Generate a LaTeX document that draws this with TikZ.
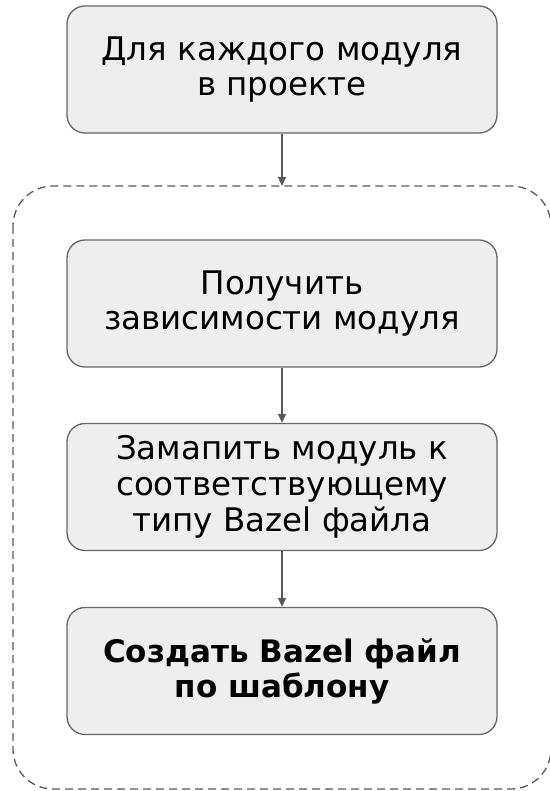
\documentclass[tikz,border=0pt]{standalone}
\usepackage{fontspec}
\setmainfont{DejaVu Sans}
\usetikzlibrary{arrows.meta}
\definecolor{boxfill}{HTML}{EEEEEE}
\definecolor{boxline}{HTML}{666666}
\definecolor{arrowc}{HTML}{595959}
\begin{document}
\begin{tikzpicture}[x=1pt,y=-1pt,
  stepbox/.style={draw=boxline, fill=boxfill, line width=1.3pt, rounded corners=18pt,
    minimum width=430pt, minimum height=127pt, align=center, inner sep=0pt,
    font=\fontsize{32.5}{35}\selectfont},
  conn/.style={draw=arrowc, line width=1.3pt, -{Triangle[length=9pt,width=8pt]}},
  groupbox/.style={draw=arrowc, line width=1.3pt, dash pattern=on 8pt off 5pt, rounded corners=40pt}]
\useasboundingbox (0,0) rectangle (549,791);
\draw[groupbox] (13,186) rectangle (551,789);
\coordinate (gtop) at (282,186);
\node[stepbox] (a) at (282,69.5) {Для каждого модуля\\в проекте};
\node[stepbox] (b) at (282,303.5) {Получить\\зависимости модуля};
\node[stepbox, font=\fontsize{32.5}{36}\selectfont] (c) at (282,487) {Замапить модуль к\\соответствующему\\типу Bazel файла};
\node[stepbox, font=\fontsize{31}{35}\selectfont\bfseries] (d) at (282,671) {Создать Bazel файл\\по шаблону};
\draw[conn] (a) -- (gtop);
\draw[conn] (b) -- (c);
\draw[conn] (c) -- (d);
\end{tikzpicture}
\end{document}
